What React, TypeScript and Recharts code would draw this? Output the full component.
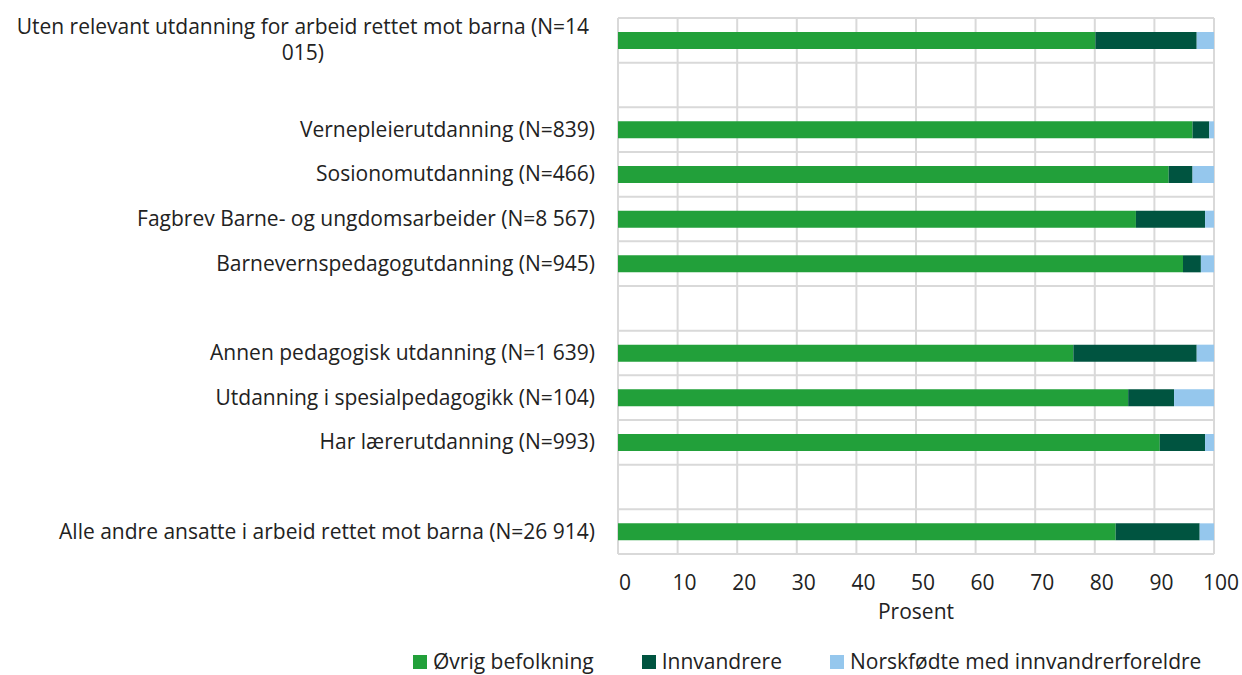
import { BarChart, Bar, XAxis, YAxis, CartesianGrid, Legend } from "recharts";

const categories = [
  "Uten relevant utdanning for arbeid rettet mot barna (N=14 015)",
  "",
  "Vernepleierutdanning (N=839)",
  "Sosionomutdanning (N=466)",
  "Fagbrev Barne- og ungdomsarbeider (N=8 567)",
  "Barnevernspedagogutdanning (N=945)",
  "",
  "Annen pedagogisk utdanning (N=1 639)",
  "Utdanning i spesialpedagogikk (N=104)",
  "Har lærerutdanning (N=993)",
  "",
  "Alle andre ansatte i arbeid rettet mot barna (N=26 914)",
];
const ovrig = [80.1, null, 96.4, 92.4, 86.9, 94.8, null, 76.4, 85.6, 90.9, null, 83.5];
const innvandrere = [17.0, null, 2.8, 4.0, 11.6, 3.0, null, 20.7, 7.7, 7.6, null, 14.1];
const norskfodte = [2.9, null, 0.8, 3.6, 1.5, 2.2, null, 2.9, 6.7, 1.5, null, 2.4];
const xTicks = [0, 10, 20, 30, 40, 50, 60, 70, 80, 90, 100];

const series = [
  { key: "ovrig", name: "Øvrig befolkning", color: "#22a03a" },
  { key: "innvandrere", name: "Innvandrere", color: "#005440" },
  { key: "norskfodte", name: "Norskfødte med innvandrerforeldre", color: "#95c7ed" },
];

const data = categories.map((name, i) => ({
  name,
  ovrig: ovrig[i],
  innvandrere: innvandrere[i],
  norskfodte: norskfodte[i],
}));

const FONT = "'Open Sans', 'Noto Sans', sans-serif";
const FS = 21;
const TEXT = "#222";

// wrap long labels the way the original does (by word, ~58 chars per line)
function wrap(label: string, max = 58) {
  const lines: string[] = [];
  let cur = "";
  for (const w of label.split(" ")) {
    const next = cur ? cur + " " + w : w;
    if (next.length > max && cur) {
      lines.push(cur);
      cur = w;
    } else cur = next;
  }
  if (cur) lines.push(cur);
  return lines;
}

function CategoryTick({ x, y, payload }: any) {
  const lines = wrap((payload && payload.value) || "");
  if (lines.length === 0) return null;
  if (lines.length === 1) {
    return (
      <text x={x} y={y} dy={7} textAnchor="end" fontSize={FS} fill={TEXT} fontFamily={FONT}>
        {lines[0]}
      </text>
    );
  }
  const half = (lines[0].length * 10.25) / 2;
  return (
    <g>
      {lines.map((l, i) => (
        <text
          key={i}
          x={x - half}
          y={y + (i - (lines.length - 1) / 2) * 26}
          dy={7}
          textAnchor="middle"
          fontSize={FS}
          fill={TEXT}
          fontFamily={FONT}
        >
          {l}
        </text>
      ))}
    </g>
  );
}

function LegendContent() {
  return (
    <div style={{ height: 41, position: "relative", fontFamily: FONT, fontSize: FS, color: TEXT }}>
      <div
        style={{
          position: "absolute",
          left: 413,
          top: 15,
          display: "flex",
          gap: 48,
          height: 25,
          lineHeight: "25px",
          alignItems: "center",
          whiteSpace: "nowrap",
        }}
      >
        {series.map((s) => (
          <div key={s.key} style={{ display: "flex", alignItems: "center" }}>
            <span style={{ width: 14, height: 14, background: s.color, display: "inline-block", marginRight: 6 }} />
            <span>{s.name}</span>
          </div>
        ))}
      </div>
    </div>
  );
}

const gridRows = ({ offset }: any) =>
  Array.from({ length: categories.length + 1 }, (_, i) => offset.top + (i * offset.height) / categories.length);

export default function App() {
  return (
    <div style={{ position: "absolute", left: 0, top: 0, background: "#fff" }}>
      <BarChart
        width={1242}
        height={675}
        data={data}
        layout="vertical"
        margin={{ top: 18, right: 28, left: 0, bottom: 0 }}
      >
        <CartesianGrid stroke="#d9d9d9" strokeWidth={2} horizontalCoordinatesGenerator={gridRows} />
        <XAxis
          type="number"
          domain={[0, 100]}
          ticks={xTicks}
          height={80}
          axisLine={false}
          tickLine={false}
          tickSize={0}
          tickMargin={21}
          tick={{ fontSize: FS, fill: TEXT, fontFamily: FONT, dx: 7 }}
          label={{ value: "Prosent", position: "insideBottom", offset: 15, fontSize: FS, fill: TEXT, fontFamily: FONT }}
        />
        <YAxis
          type="category"
          dataKey="name"
          width={618}
          axisLine={false}
          tickLine={false}
          tickSize={0}
          tickMargin={23}
          interval={0}
          tick={<CategoryTick />}
        />
        <Legend verticalAlign="bottom" content={<LegendContent />} />
        {series.map((s) => (
          <Bar key={s.key} dataKey={s.key} name={s.name} stackId="a" fill={s.color} barSize={17} isAnimationActive={false} />
        ))}
      </BarChart>
    </div>
  );
}
